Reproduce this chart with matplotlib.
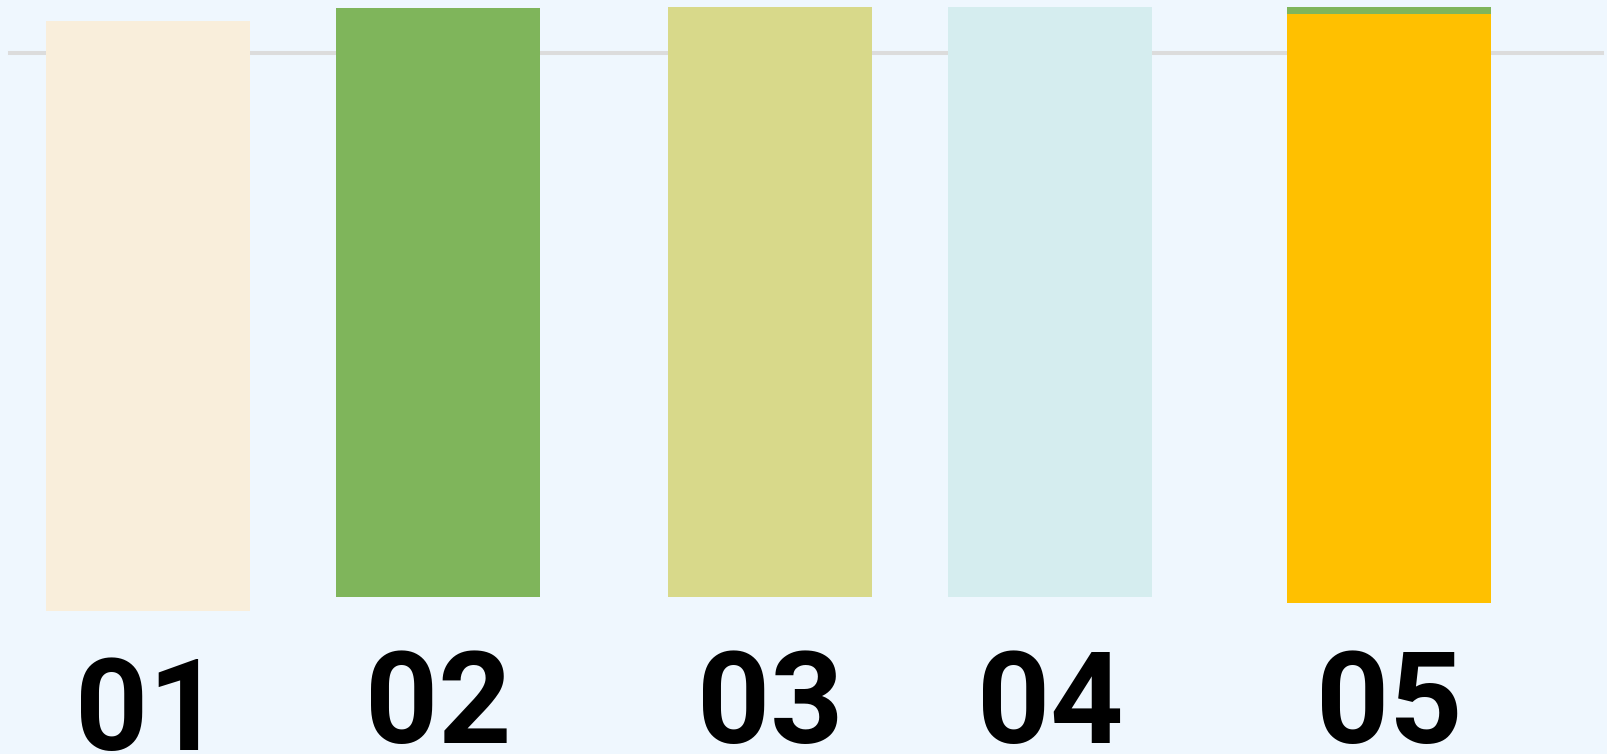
import matplotlib
matplotlib.use("Agg")
import matplotlib.pyplot as plt

# data
categories = ["01", "02", "03", "04", "05"]
positions = [1.48, 4.38, 7.70, 10.50, 13.89]
bottoms = [-2.6, 0.0, 0.0, 0.0, -1.1]
main_tops = [105.8, 108.2, 108.4, 108.4, 107.1]
cap_tops = [105.8, 108.2, 108.4, 108.4, 108.4]
label_y = [-28.1, -26.8, -26.8, -26.8, -26.8]
grid_value = 100

colors = ["#F9EEDB", "#7FB55B", "#D8D98A", "#D5EDEF", "#FFC000"]
cap_color = "#7FB55B"
bg = "#EFF7FE"

fig = plt.figure(figsize=(16.08, 7.54), dpi=100, facecolor=bg)
ax = fig.add_axes([0, 0, 1, 1])
ax.set_facecolor(bg)

px = 5.443  # pixels per unit
ax.set_xlim(0, 16.08)
ax.set_ylim(-(754 - 597) / px, 597 / px)

ax.axhline(grid_value, xmin=0.006, xmax=0.996, color="#DCDCDC", lw=2.9, zorder=1)

heights = [t - b for t, b in zip(main_tops, bottoms)]
ax.bar(positions, heights, bottom=bottoms, width=2.04, color=colors, zorder=2, linewidth=0)
cap_h = [c - m for c, m in zip(cap_tops, main_tops)]
ax.bar(positions, cap_h, bottom=main_tops, width=2.04, color=cap_color, zorder=2, linewidth=0)

for x, y, lab in zip(positions, label_y, categories):
    ax.text(x, y, lab, ha="center", va="baseline", fontsize=92,
            fontweight="bold", family="Roboto", color="black")

ax.axis("off")
fig.savefig("out.png", dpi=100, facecolor=bg)
